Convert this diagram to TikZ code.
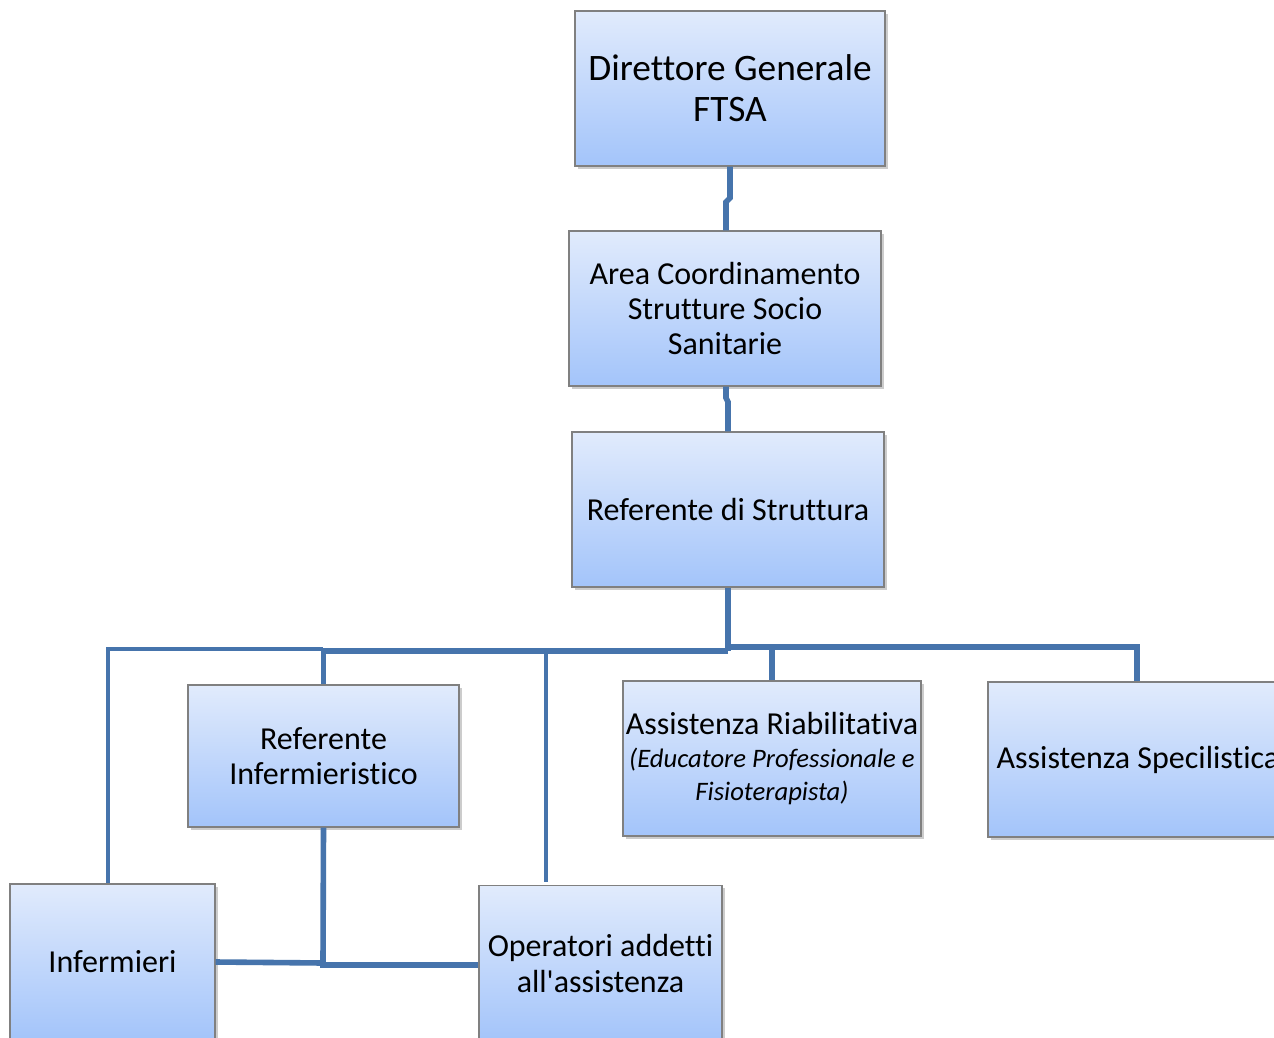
\documentclass[tikz,border=0pt]{standalone}
\usepackage{fontspec}
\setmainfont{Carlito}[Ligatures={TeXOff,CommonOff}]
\usetikzlibrary{shadows}
\definecolor{linec}{RGB}{70,116,172}
\definecolor{boxtop}{RGB}{225,235,252}
\definecolor{boxbot}{RGB}{163,196,250}
\definecolor{boxborder}{RGB}{128,128,128}
\begin{document}
\begin{tikzpicture}[x=0.75pt,y=-0.75pt,
  box/.style={rectangle, draw=boxborder, line width=0.8pt, top color=boxtop, bottom color=boxbot,
    inner sep=0pt, align=center, font=\fontsize{24}{26.6}\selectfont,
    drop shadow={opacity=0.4, shadow xshift=2pt, shadow yshift=-2pt}},
  thickline/.style={draw=linec, line width=4.2pt},
  thinline/.style={draw=linec, line width=2.6pt}]
\clip (0,0) rectangle (1274,1038);
\fill[white] (0,0) rectangle (1274,1038);

\node[box, minimum width=232.5pt, minimum height=116.25pt, font=\fontsize{28}{30.75}\selectfont] (dg) at (730,88.5) {Direttore Generale\\FTSA};
\node[box, minimum width=234pt, minimum height=116.25pt] (area) at (725,308.5) {Area Coordinamento\\Strutture Socio\\Sanitarie};
\node[box, minimum width=234pt, minimum height=116.25pt] (ref) at (728,509.5) {Referente di Struttura};
\node[box, minimum width=203.25pt, minimum height=106.5pt] (refinf) at (323.5,756) {Referente\\Infermieristico};
\node[box, minimum width=223.5pt, minimum height=116.25pt] (riab) at (772,758.5) {Assistenza Riabilitativa\\[-2pt]{\fontsize{20}{22.5}\selectfont\itshape (Educatore Professionale e}\\[-2pt]{\fontsize{20}{22.5}\selectfont\itshape Fisioterapista)}};
\node[box, minimum width=232.5pt, minimum height=116.25pt] (spec) at (1143,759.5) {Assistenza Specilistica\hspace*{7.5pt}};
\node[box, minimum width=153.75pt, minimum height=117pt] (inf) at (112.5,962) {Infermieri};
\node[box, minimum width=182.25pt, minimum height=117pt] (op) at (600.5,963.5) {Operatori addetti\\all'assistenza};

% top connectors with small jogs
\coordinate (j1a) at (730,198);
\coordinate (j1b) at (726,202);
\draw[thickline] (dg.south -| j1a) -- (j1a) -- (j1b) -- (area.north -| j1b);
\coordinate (j2a) at (726,398);
\coordinate (j2b) at (728,402);
\draw[thickline] (area.south -| j2a) -- (j2a) -- (j2b) -- (ref.north -| j2b);

% branch from Referente di Struttura
\coordinate (hubL) at (728,651);
\coordinate (hubR) at (728,647);
\draw[thickline] (ref.south) -- (hubL);
\draw[thickline] (hubL) -| (refinf.north);
\draw[thickline] (hubR) -- (1137,647) -- (spec.north -| 1137,647);
\draw[thickline] (772,647) -- (riab.north -| 772,647);
\draw[thinline] (323,649) -| (inf.north -| 108,649);
\coordinate (opline) at (546,649);
\draw[thinline] (opline) -- (546,882);

% Referente Infermieristico to bottom boxes
\coordinate (hubB) at (323,963);
\draw[thickline] (refinf.south) -- (hubB);
\draw[thickline] (inf.east |- 0,962) -- (hubB);
\draw[thickline] (hubB) -- (323,965) -- (op.west |- 0,965);
\end{tikzpicture}
\end{document}
